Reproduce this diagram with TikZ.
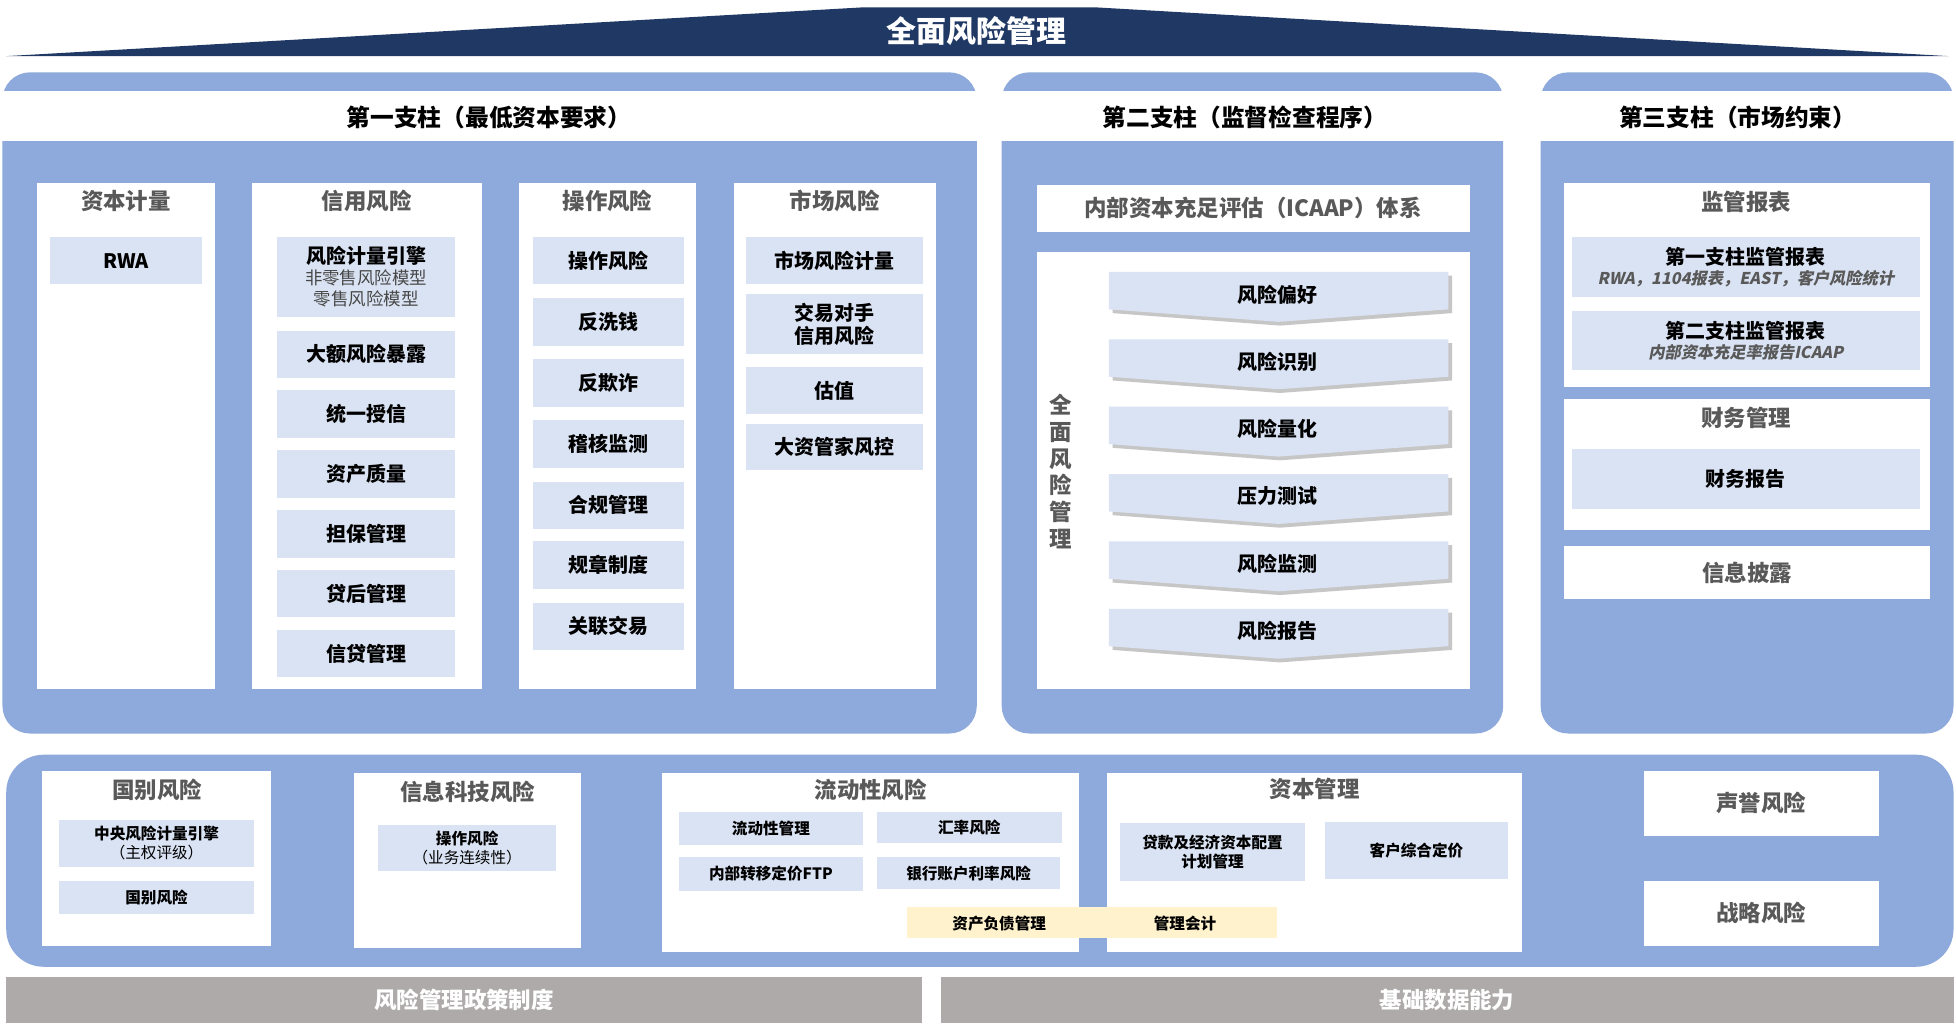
\documentclass[tikz,border=0pt]{standalone}
\usepackage{fontspec}
\setmainfont{Noto Sans CJK SC}
\newfontfamily\slnt{Noto Sans CJK SC Bold}[FakeSlant=0.2]
\definecolor{navy}{HTML}{203864}
\definecolor{panel}{HTML}{8EA9DB}
\definecolor{itemb}{HTML}{DAE3F3}
\definecolor{yel}{HTML}{FFF2CC}
\definecolor{hd}{HTML}{595959}
\definecolor{gr}{HTML}{AEAAAA}
\newcommand\fs[1]{\fontsize{#1}{\dimexpr 12\dimexpr #1pt\relax/10\relax}\selectfont}
\newcommand\bx[7]{\node[#6,minimum width={#4-#2},minimum height={#5-#3}] (#1) at ({(#2+#4)/2},{(#3+#5)/2}) {#7};}
\tikzset{
 wbox/.style={fill=white,inner sep=0pt,outer sep=0pt,anchor=center},
 ibox/.style={fill=itemb,inner sep=0pt,outer sep=0pt,align=center,font=\bfseries\fs{16}},
 sbox/.style={fill=itemb,inner sep=0pt,outer sep=0pt,align=center,font=\bfseries\fs{12.5}},
 colhd/.style={text=hd,font=\bfseries\fs{18}},
 pilhd/.style={font=\bfseries\fs{19}},
}
\begin{document}
\begin{tikzpicture}[x=1pt,y=-1pt]
\useasboundingbox (0,0) rectangle (1568,826);
\fill[white] (0,0) rectangle (1568,826);
% title
\fill[navy] (5,45) -- (690,6) -- (880,6) -- (1562,45) -- cycle;
\node[text=white,font=\bfseries\fs{24}] (title) at (783,25) {全面风险管理};
% pillar panels
\fill[panel,rounded corners=22pt] (2,58) rectangle (783,588);
\fill[panel,rounded corners=22pt] (803,58) rectangle (1205,588);
\fill[panel,rounded corners=22pt] (1235,58) rectangle (1566,588);
\fill[white] (0,73) rectangle (785,113);
\fill[white] (801,73) rectangle (1207,113);
\fill[white] (1233,73) rectangle (1568,113);
\node[pilhd] (p1) at (392,94) {第一支柱（最低资本要求）};
\node[pilhd] (p2) at (998,94) {第二支柱（监督检查程序）};
\node[pilhd] (p3) at (1393,94) {第三支柱（市场约束）};
% pillar 1 columns
\bx{c1}{30}{147}{172}{552}{wbox}{}
\bx{c2}{202}{147}{386}{552}{wbox}{}
\bx{c3}{416}{147}{558}{552}{wbox}{}
\bx{c4}{588}{147}{750}{552}{wbox}{}
\node[colhd] (h1) at (101,161) {资本计量};
\node[colhd] (h2) at (294,161) {信用风险};
\node[colhd] (h3) at (487,161) {操作风险};
\node[colhd] (h4) at (669,161) {市场风险};
\bx{rwa}{40}{190}{162}{228}{ibox}{RWA}
\bx{k1}{222}{190}{365}{254}{ibox,font=\bfseries\fs{14}}{{\fs{16}风险计量引擎}\\{\mdseries\color{hd!80!black}非零售风险模型}\\{\mdseries\color{hd!80!black}零售风险模型}}
\bx{k2}{222}{265}{365}{303}{ibox}{大额风险暴露}
\bx{k3}{222}{313}{365}{351}{ibox}{统一授信}
\bx{k4}{222}{361}{365}{399}{ibox}{资产质量}
\bx{k5}{222}{409}{365}{447}{ibox}{担保管理}
\bx{k6}{222}{457}{365}{495}{ibox}{贷后管理}
\bx{k7}{222}{505}{365}{543}{ibox}{信贷管理}
\bx{o1}{427}{190}{548}{228}{ibox}{操作风险}
\bx{o2}{427}{239}{548}{277}{ibox}{反洗钱}
\bx{o3}{427}{288}{548}{326}{ibox}{反欺诈}
\bx{o4}{427}{337}{548}{375}{ibox}{稽核监测}
\bx{o5}{427}{386}{548}{424}{ibox}{合规管理}
\bx{o6}{427}{434}{548}{472}{ibox}{规章制度}
\bx{o7}{427}{483}{548}{521}{ibox}{关联交易}
\bx{m1}{598}{190}{740}{228}{ibox}{市场风险计量}
\bx{m2}{598}{236}{740}{284}{ibox}{交易对手\\信用风险}
\bx{m3}{598}{294}{740}{332}{ibox}{估值}
\bx{m4}{598}{340}{740}{377}{ibox}{大资管家风控}
% pillar 2
\bx{icaap}{831}{148}{1178}{186}{wbox}{\color{hd}\bfseries\fs{18}内部资本充足评估（ICAAP）体系}
\bx{p2box}{831}{202}{1178}{552}{wbox}{}
\node[font=\bfseries\fs{18},text=hd,align=center] (vt) at (850,378) {全\\面\\风\\险\\管\\理};
\foreach \y/\t [count=\i] in {236/风险偏好,290/风险识别,344/风险量化,398/压力测试,452/风险监测,506/风险报告}{
  \fill[gray!45] (892,\y-15) -- (1164,\y-15) -- (1164,\y+15) -- (1026,\y+25) -- (892,\y+15) -- cycle;
  \fill[itemb] (889,\y-18) -- (1161,\y-18) -- (1161,\y+12) -- (1025,\y+22) -- (889,\y+12) -- cycle;
  \node[font=\bfseries\fs{16}] (ch\i) at (1024,\y) {\t};
}
% pillar 3
\bx{r1}{1254}{147}{1547}{310}{wbox}{}
\node[colhd] (rh) at (1400,162) {监管报表};
\bx{r11}{1260}{190}{1539}{238}{ibox,font=\bfseries\fs{13}}{{\fs{16}第一支柱监管报表}\\{\slnt\color{hd}RWA，1104报表，EAST，客户风险统计}}
\bx{r12}{1260}{249}{1539}{297}{ibox,font=\bfseries\fs{13}}{{\fs{16}第二支柱监管报表}\\{\slnt\color{hd}内部资本充足率报告ICAAP}}
\bx{r2}{1254}{320}{1547}{425}{wbox}{}
\node[colhd] (fh) at (1400,335) {财务管理};
\bx{r21}{1260}{360}{1539}{408}{ibox}{财务报告}
\bx{r3}{1254}{438}{1547}{480}{wbox}{\color{hd}\bfseries\fs{18}信息披露}
% bottom band
\fill[panel,rounded corners=30pt] (5,605) rectangle (1566,775);
\bx{b1}{34}{618}{217}{758}{wbox}{}
\node[colhd] (b1h) at (126,633) {国别风险};
\bx{b11}{47}{657}{204}{695}{sbox}{中央风险计量引擎\\{\mdseries（主权评级）}}
\bx{b12}{47}{706}{204}{733}{sbox}{国别风险}
\bx{b2}{284}{620}{466}{760}{wbox}{}
\node[colhd] (b2h) at (375,635) {信息科技风险};
\bx{b21}{303}{661}{446}{698}{sbox}{操作风险\\{\mdseries（业务连续性）}}
\bx{b3}{531}{620}{865}{763}{wbox}{}
\node[colhd] (b3h) at (698,633) {流动性风险};
\bx{b31}{544}{651}{692}{677}{sbox}{流动性管理}
\bx{b32}{703}{651}{851}{676}{sbox}{汇率风险}
\bx{b33}{544}{687}{692}{714}{sbox}{内部转移定价FTP}
\bx{b34}{703}{687}{850}{713}{sbox}{银行账户利率风险}
\bx{b4}{887}{620}{1220}{763}{wbox}{}
\node[colhd] (b4h) at (1054,632) {资本管理};
\bx{b41}{898}{660}{1046}{706}{sbox}{贷款及经济资本配置\\计划管理}
\bx{b42}{1062}{659}{1209}{705}{sbox}{客户综合定价}
\bx{yl}{727}{727}{1024}{752}{wbox,fill=yel}{}
\node[font=\bfseries\fs{12.5}] (alm) at (801,740) {资产负债管理};
\node[font=\bfseries\fs{12.5}] (ma) at (950,740) {管理会计};
\bx{b5}{1318}{618}{1506}{670}{wbox}{\color{hd}\bfseries\fs{18}声誉风险}
\bx{b6}{1318}{706}{1506}{758}{wbox}{\color{hd}\bfseries\fs{18}战略风险}
% footer
\bx{f1}{5}{783}{739}{820}{wbox,fill=gr}{\color{white}\bfseries\fs{18}风险管理政策制度}
\bx{f2}{754}{783}{1566}{820}{wbox,fill=gr}{\color{white}\bfseries\fs{18}基础数据能力}
\end{tikzpicture}
\end{document}
